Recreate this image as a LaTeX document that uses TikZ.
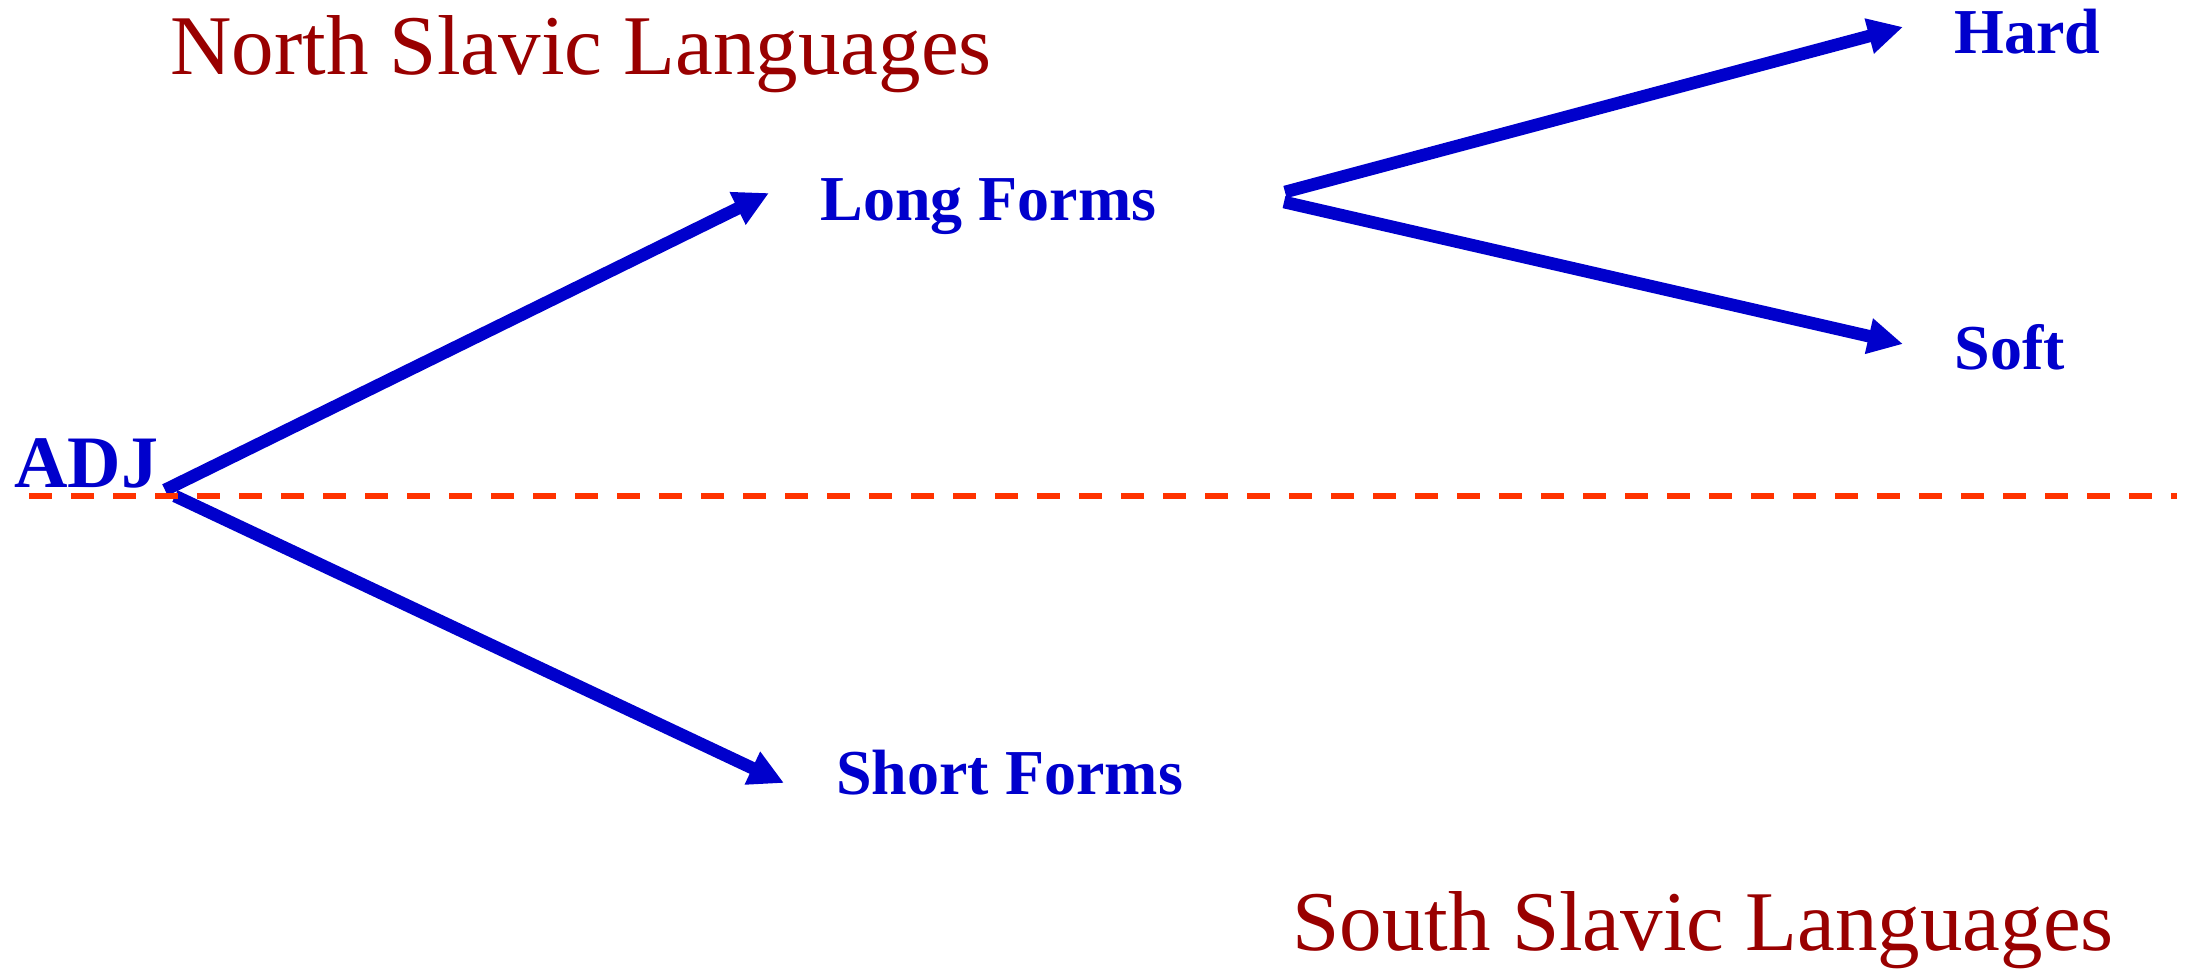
\documentclass[tikz,border=0pt]{standalone}
\usepackage{fontspec}
\setmainfont{Liberation Serif}
\usetikzlibrary{arrows.meta}
\definecolor{labblue}{HTML}{0000CC}
\definecolor{titred}{HTML}{990000}
\definecolor{dashred}{HTML}{FF3300}
\tikzset{
  title/.style={anchor=base west, inner sep=0pt, text=titred, font=\fontsize{42.5pt}{50pt}\selectfont},
  lab/.style={anchor=base west, inner sep=0pt, text=labblue, font=\bfseries\fontsize{32pt}{38pt}\selectfont},
  rootlab/.style={anchor=base west, inner sep=0pt, text=labblue, font=\bfseries\fontsize{37pt}{44pt}\selectfont},
  branch/.style={draw=labblue, line width=6.3pt, -{Triangle[length=17.5pt,width=17pt]}},
  divider/.style={draw=dashred, line width=3pt, dash pattern=on 11.5pt off 9.5pt}
}
\begin{document}
\begin{tikzpicture}[x=0.5pt,y=-0.5pt]
\useasboundingbox (0,0) rectangle (2188,970);
% labels
\node[title] (north) at (170,74) {North Slavic Languages};
\node[title] (south) at (1292,950) {South Slavic Languages};
\node[rootlab] (adj) at (14,487) {ADJ};
\node[lab] (long) at (820,220) {Long Forms};
\node[lab] (short) at (836,794) {Short Forms};
\node[lab] (hard) at (1954,53) {Hard};
\node[lab] (soft) at (1954,369) {Soft};
% connector ends
\coordinate (adjUp) at (165,490);
\coordinate (adjDown) at (175,496);
\coordinate (longIn) at (769,193);
\coordinate (shortIn) at (784,783);
\coordinate (longOutUp) at (1285,192);
\coordinate (longOutDown) at (1284,202);
\coordinate (hardIn) at (1903,27);
\coordinate (softIn) at (1903,344);
\coordinate (divL) at (29,496);
\coordinate (divR) at (2177,496);
% arrows
\draw[branch] (adjUp) -- (longIn);
\draw[branch] (adjDown) -- (shortIn);
\draw[branch] (longOutUp) -- (hardIn);
\draw[branch] (longOutDown) -- (softIn);
% dashed divider
\draw[divider] (divL) -- (divR);
\end{tikzpicture}
\end{document}
